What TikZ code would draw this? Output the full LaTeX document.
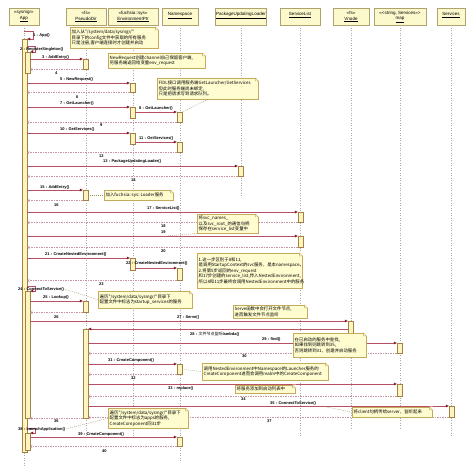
\documentclass[tikz,border=0pt]{standalone}
\usepackage{fontspec}
\setmainfont{Liberation Sans}
\newfontfamily\cjk{Noto Sans CJK SC}
\usetikzlibrary{arrows.meta,positioning,calc}

\definecolor{headfill}{RGB}{252,249,205}
\definecolor{headline}{RGB}{176,162,108}
\definecolor{barfill}{RGB}{253,244,190}
\definecolor{barline}{RGB}{160,130,70}
\definecolor{notefill}{RGB}{255,253,208}
\definecolor{notec}{RGB}{196,170,90}
\definecolor{msgc}{RGB}{184,80,100}
\definecolor{tipc}{RGB}{128,16,32}
\definecolor{retc}{RGB}{200,150,160}
\definecolor{lifec}{RGB}{170,170,170}

% folded corner of a note
\newcommand\dogear[1]{%
  \fill[white] ([xshift=-3pt,yshift=0.5pt]#1.north east) -- ([xshift=0.5pt,yshift=0.5pt]#1.north east)
    -- ([xshift=0.5pt,yshift=-3pt]#1.north east) -- cycle;
  \filldraw[draw=notec, fill=notefill, line width=0.4pt] ([xshift=-3pt]#1.north east)
    -- ([xshift=-3pt,yshift=-3pt]#1.north east) -- ([yshift=-3pt]#1.north east) -- cycle;}

\begin{document}
\begin{tikzpicture}[
  x=1pt, y=-1pt,
  head/.style={rectangle, draw=headline, fill=headfill, anchor=north, minimum height=17pt,
               inner sep=0.8pt, align=center, font=\fontsize{4.5}{5.4}\selectfont},
  life/.style={draw=lifec, dotted, line width=0.5pt},
  bar/.style={rectangle, draw=barline, fill=barfill, anchor=north, minimum width=5pt,
              inner sep=0pt, line width=0.4pt},
  call/.style={draw=msgc, line width=0.4pt, -{Triangle[length=3pt, width=2.6pt, color=tipc]}},
  ret/.style={draw=retc, line width=0.4pt, dash pattern=on 1.5pt off 1pt,
              -{Straight Barb[length=2pt, width=3.4pt]}},
  lbl/.style={anchor=west, inner sep=0pt, font=\fontsize{4}{4.8}\selectfont\bfseries},
  notebox/.style={rectangle, draw=notec, fill=notefill, anchor=north west, inner sep=1.5pt,
                  align=left, line width=0.4pt, font=\cjk\fontsize{4.4}{5.5}\selectfont},
  conn/.style={draw=notec!80!black, line width=0.3pt, dash pattern=on 1pt off 1pt},
]
\useasboundingbox (0,0) rectangle (474,475);

% objects
\node[head, minimum width=30pt] (hApp) at (24,8)  {<<sysmgr>>\\\underline{App}};
\node[head, minimum width=40pt] (hPD)  at (86,8)  {<<fs>>\\\underline{PseudoDir}};
\node[head, minimum width=50pt] (hEnv) at (133,8) {<<fuchsia::sys>>\\\underline{EnvironmentPtr}};
\node[head, minimum width=36pt] (hNS)  at (180,8) {\underline{Namespace}\\~};
\node[head, minimum width=50pt] (hPUL) at (241,8) {\underline{PackageUpdatingLoader}\\~};
\node[head, minimum width=40pt] (hSL)  at (300,8) {\underline{ServiceList}\\~};
\node[head, minimum width=36pt] (hVn)  at (351,8) {<<fs>>\\\underline{Vnode}};
\node[head, minimum width=52pt] (hMap) at (400,8) {<<<string, Services>>>\\\underline{map}};
\node[head, minimum width=28pt] (hSrv) at (451,8) {\underline{Services}\\~};

% lifelines
\draw[life] (hApp.south) -- (hApp.south |- 0,467);
\draw[life] (hPD.south)  -- (hPD.south |- 0,436);
\draw[life] (hEnv.south) -- (hEnv.south |- 0,436);
\draw[life] (hNS.south)  -- (hNS.south |- 0,462);
\draw[life] (hPUL.south) -- (hPUL.south |- 0,196);
\draw[life] (hSL.south)  -- (hSL.south |- 0,436);
\draw[life] (hVn.south)  -- (hVn.south |- 0,430);
\draw[life] (hMap.south) -- (hMap.south |- 0,430);
\draw[life] (hSrv.south) -- (hSrv.south |- 0,436);

% activations
\node[bar, minimum height=413pt] (appm) at (24.5,39) {};
\node[bar, minimum height=21pt]  (reg)  at (27.5,52) {};
\node[bar, minimum height=10pt]  (pd1)  at (85.5,59) {};
\node[bar, minimum height=9pt]   (env1) at (132.5,83) {};
\node[bar, minimum height=11pt]  (env2) at (132.5,107) {};
\node[bar, minimum height=10pt]  (ns1)  at (179.5,112) {};
\node[bar, minimum height=11pt]  (env3) at (132.5,133) {};
\node[bar, minimum height=10pt]  (ns2)  at (179.5,142) {};
\node[bar, minimum height=10pt]  (pul)  at (240.5,166) {};
\node[bar, minimum height=10pt]  (pd2)  at (85.5,190) {};
\node[bar, minimum height=10pt]  (sl1)  at (300.5,212) {};
\node[bar, minimum height=11pt]  (sl2)  at (300.5,236) {};
\node[bar, minimum height=12pt]  (env4) at (132.5,258) {};
\node[bar, minimum height=12pt]  (ns3)  at (179.5,268) {};
\node[bar, minimum height=127pt] (cts)  at (27.5,291) {};
\node[bar, minimum height=11pt]  (pd3)  at (85.5,301) {};
\node[bar, minimum height=12pt]  (vn)   at (350.5,321) {};
\node[bar, minimum height=89pt]  (pd4)  at (85.5,329) {};
\node[bar, minimum height=10pt]  (map1) at (399.5,343) {};
\node[bar, minimum height=10pt]  (ns4)  at (179.5,364) {};
\node[bar, minimum height=12pt]  (map2) at (399.5,384) {};
\node[bar, minimum height=11pt]  (srv)  at (451.5,406) {};
\node[bar, minimum height=17pt]  (lapp) at (27.5,433) {};
\node[bar, minimum height=9pt]   (ns5)  at (179.5,437) {};

% messages
\coordinate (s1) at (24,31);
\draw[call] (s1) -- ++(9,0) |- (appm.north east);
\node[lbl] (m1) at (33,35) {1 : App()};
\draw[call] ($(appm.east |- reg.north)+(0,-6)$) -- ++(8,0) |- (reg.north east);
\node[lbl] (m2) at (20,49) {2 : RegisterSingleton()};
\draw[call] (reg.east |- pd1.north) -- (pd1.north west);
\node[lbl] (m3) at (42,57) {3 : AddEntry()};
\draw[ret] (pd1.south west) -- (reg.east |- pd1.south);
\node[lbl] (m4) at (55,73) {4};
\draw[call] (appm.east |- env1.north) -- (env1.north west);
\node[lbl] (m5) at (60,79) {5 : NewRequest()};
\draw[ret] (env1.south west) -- (appm.east |- env1.south);
\node[lbl] (m6) at (76,97) {6};
\draw[call] (appm.east |- env2.north) -- (env2.north west);
\node[lbl] (m7) at (60,103) {7 : GetLauncher()};
\draw[call] (env2.east |- ns1.north) -- (ns1.north west);
\node[lbl] (m8) at (139,108) {8 : GetLauncher()};
\draw[ret] (ns1.south west) -- (appm.east |- ns1.south);
\node[lbl] (m9) at (100,125) {9};
\draw[call] (appm.east |- env3.north) -- (env3.north west);
\node[lbl] (m10) at (60,129) {10 : GetServices()};
\draw[call] (env3.east |- ns2.north) -- (ns2.north west);
\node[lbl] (m11) at (139,138) {11 : GetServices()};
\draw[ret] (ns2.south west) -- (appm.east |- ns2.south);
\node[lbl] (m12) at (99,156) {12};
\draw[call] (appm.east |- pul.north) -- (pul.north west);
\node[lbl] (m13) at (103,161) {13 : PackageUpdatingLoader()};
\draw[ret] (pul.south west) -- (appm.east |- pul.south);
\node[lbl] (m14) at (131,180) {14};
\draw[call] (appm.east |- pd2.north) -- (pd2.north west);
\node[lbl] (m15) at (40,187) {15 : AddEntry()};
\draw[ret] (pd2.south west) -- (appm.east |- pd2.south);
\node[lbl] (m16) at (54,205) {16};
\draw[call] (appm.east |- sl1.north) -- (sl1.north west);
\node[lbl] (m17) at (147,208) {17 : ServiceList()};
\draw[ret] (sl1.south west) -- (appm.east |- sl1.south);
\node[lbl] (m18) at (161,226) {18};
\draw[call] (appm.east |- sl2.north) -- (sl2.north west);
\node[lbl] (m19) at (161,232) {19};
\draw[ret] (sl2.south west) -- (appm.east |- sl2.south);
\node[lbl] (m20) at (161,251) {20};
\draw[call] (appm.east |- env4.north) -- (env4.north west);
\node[lbl] (m21) at (45,254) {21 : CreateNestedEnvironment()};
\draw[call] (env4.east |- ns3.north) -- (ns3.north west);
\node[lbl] (m22) at (126,263) {22 : CreateNestedEnvironment()};
\draw[ret] (ns3.south west) -- (appm.east |- ns3.south);
\node[lbl] (m23) at (99,284) {23};
\draw[call] ($(appm.east |- cts.north)+(0,-5)$) -- ++(8,0) |- (cts.north east);
\node[lbl] (m24) at (18,289) {24 : ConnectToService()};
\draw[call] (cts.east |- pd3.north) -- (pd3.north west);
\node[lbl] (m25) at (43,297) {25 : Lookup()};
\draw[ret] (pd3.south west) -- (cts.east |- pd3.south);
\node[lbl] (m26) at (54,317) {26};
\draw[call] (cts.east |- vn.north) -- (vn.north west);
\node[lbl] (m27) at (177,317) {27 : Serve()};
\draw[call] (vn.west |- pd4.north) -- (pd4.north east);
\node[lbl] (m28) at (190,334) {28 : {\cjk\mdseries 文件节点监听}lambda()};
\draw[call] (pd4.east |- map1.north) -- (map1.north west);
\node[lbl] (m29) at (262,339) {29 : find()};
\draw[ret] (map1.south west) -- (pd4.east |- map1.south);
\node[lbl] (m30) at (242,356) {30};
\draw[call] (pd4.east |- ns4.north) -- (ns4.north west);
\node[lbl] (m31) at (108,360) {31 : CreateComponent()};
\draw[ret] (ns4.south west) -- (pd4.east |- ns4.south);
\node[lbl] (m32) at (131,378) {32};
\draw[call] (pd4.east |- map2.north) -- (map2.north west);
\node[lbl] (m33) at (168,388) {33 : replace()};
\draw[ret] (map2.south west) -- (pd4.east |- map2.south);
\node[lbl] (m34) at (241,399) {34};
\draw[call] (pd4.east |- srv.north) -- (srv.north west);
\node[lbl] (m35) at (270,403) {35 : ConnectToService()};
\draw[ret] (srv.south west) -- (pd4.east |- srv.south);
\node[lbl] (m37) at (267,421) {37};
\draw[ret] (pd4.south west) -- (cts.east |- pd4.south);
\node[lbl] (m36) at (54,421) {36};
\draw[call] ($(appm.east |- lapp.north)+(0,-5)$) -- ++(8,0) |- (lapp.north east);
\node[lbl] (m38) at (18,429) {38 : LaunchApplication()};
\draw[call] (lapp.east |- ns5.north) -- (ns5.north west);
\node[lbl] (m39) at (78,434) {39 : CreateComponent()};
\draw[ret] (ns5.south west) -- (lapp.east |- ns5.south);
\node[lbl] (m40) at (102,451) {40};

% notes
\node[notebox, text width=85pt, minimum height=21pt] (nA) at (70,27)
  {加入从"/system/data/sysmgr/"\\目录下的config文件中获取的所有服务\\只是注册,客户端连接时才创建并启动};
\node[notebox, text width=94pt, minimum height=15pt] (nB) at (108,53)
  {NewRequest创建channel自己保留客户端,\\另服务端返回给变量env\_request};
\node[notebox, text width=98pt, minimum height=21pt] (nC) at (157,78)
  {FIDL接口调用服务端GetLauncher/GetServices\\但此时服务端尚未绑定,\\只是把请求写到请求队列。};
\node[notebox, text width=66pt, minimum height=10pt] (nD) at (104,190)
  {加入fuchsia::sys::Loader服务};
\node[notebox, text width=58pt, minimum height=19pt] (nE) at (197,214)
  {将svc\_names\_\\以及svc\_root\_的通信句柄\\保存在service\_list变量中};
\node[notebox, text width=102pt, minimum height=35pt] (nF) at (197,253)
  {1.这一步区别于8和11,\\是调用StartupContext的svc服务，是本namespace。\\2.将第5步返回的env\_request\\和17步创建的service\_list,传入NestedEnvironment,\\所以8和11步最终会调用NestedEnvironment中的服务};
\node[notebox, text width=91pt, minimum height=17pt] (nG) at (98,291)
  {遍历"/system/data/sysmgr/"目录下\\配置文件中标志为startup\_services的服务};
\node[notebox, text width=71pt, minimum height=13pt] (nH) at (233,305)
  {Serve函数中会打开文件节点,\\进而触发文件节点监听};
\node[notebox, text width=70pt, minimum height=24pt] (nI) at (293,333)
  {在已启动的服务中查找,\\如果找到则跳转到35,\\否则跳转到31，创建并启动服务};
\node[notebox, text width=123pt, minimum height=17pt] (nJ) at (202,363)
  {调用NestedEnvironment中Namespace的Launcher服务的\\CreateComponent进而会调用realm中的CreateComponent};
\node[notebox, text width=57pt, minimum height=8pt] (nK) at (235,385)
  {将服务添加到启动列表中};
\node[notebox, text width=77pt, minimum height=10pt] (nL) at (352,407)
  {将client句柄传给server，监听起来};
\node[notebox, text width=77pt, minimum height=20pt] (nM) at (108,408)
  {遍历"/system/data/sysmgr/"目录下\\配置文件中标志为apps的服务,\\CreateComponent同31步};
\dogear{nA} \dogear{nB} \dogear{nC} \dogear{nD} \dogear{nE} \dogear{nF} \dogear{nG}
\dogear{nH} \dogear{nI} \dogear{nJ} \dogear{nK} \dogear{nL} \dogear{nM}

% note links
\coordinate (c19) at (166,236);
\coordinate (c35) at (322,406);
\draw[conn] (nC.south) -- (ns1.north east);
\draw[conn] (pd2.east) -- (nD.west);
\draw[conn] (nE.south west) -- (c19);
\draw[conn] (nG.west) -- (m24.east);
\draw[conn] (ns4.east) -- (nJ.west);
\draw[conn] (nL.west) -- (c35);
\draw[conn] (nM.west) -- (m38.east);

\end{tikzpicture}
\end{document}
